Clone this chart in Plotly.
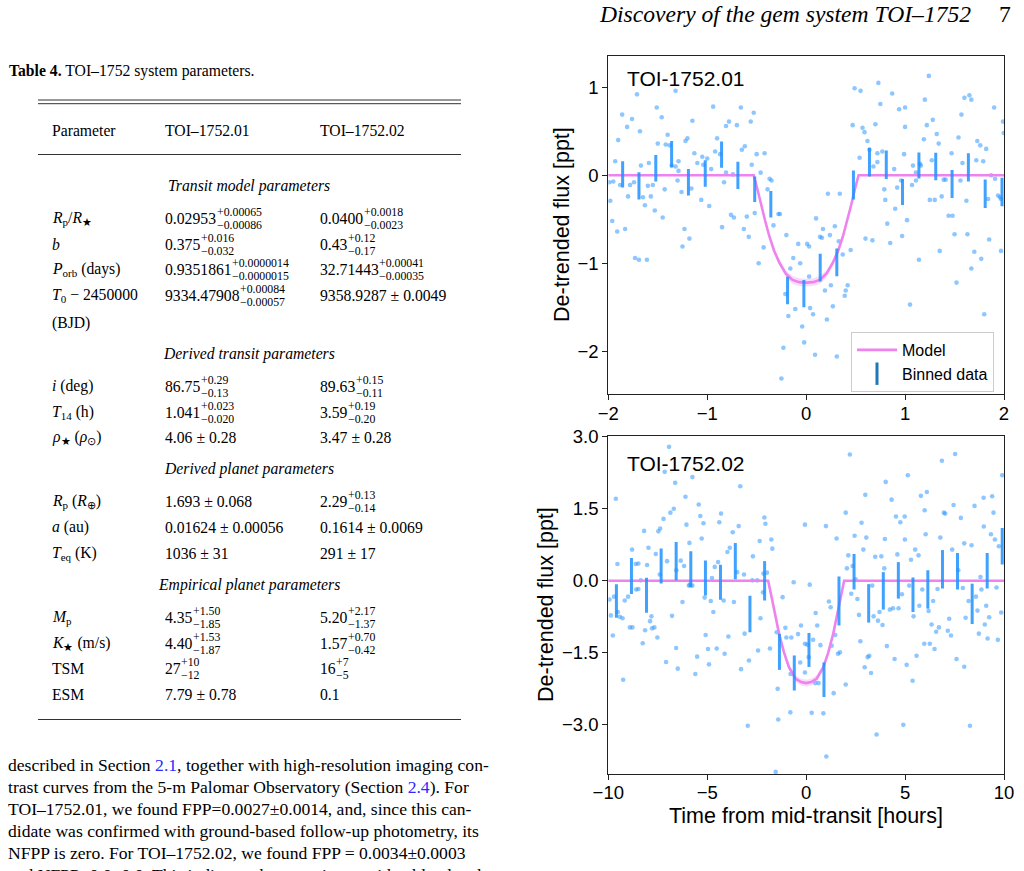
import plotly.graph_objects as go

W, H = 1024, 871
SERIF = "Liberation Serif"
SANS = "Liberation Sans"

# ------------------------------------------------------------------ data
# Panel 1 : TOI-1752.01 (time in hours, flux in ppt)
p1_time = [
    -1.71, -1.32, -1.51, -0.94, -0.66, -1.86, -1.76, -1.46, -1.81, -1.68,
    -1.15, -0.78, -0.70, -0.81, -0.53, -0.56, -1.90, -1.40, -1.20, -1.22,
    -1.50, -1.42, -1.38, -0.90, -0.62, -0.65, -0.92, -0.87, -1.13, -1.05,
    -1.00, -0.50, -0.42, -1.93, -1.59, -1.67, -1.29, -1.36, -1.32, -1.10,
    -1.04, -0.96, -0.55, -0.46, -1.29, -0.81, -0.74, -0.83, -1.99, -1.95,
    -1.88, -1.78, -1.74, -1.60, -1.55, -1.30, -1.43, -1.16, -1.26, -1.98,
    -1.80, -1.65, -1.57, -1.63, -1.53, -1.45, -1.06, -0.98, -0.37, -0.35,
    -0.39, -0.76, -0.73, -0.60, -0.52, -0.33, -0.28, -0.265, -1.96, -1.83,
    -1.91, -1.23, -1.18, -1.25, -0.85, -0.63, -0.58, -0.20, -0.08, -0.43,
    -1.73, -1.69, -1.61, -0.48, -0.13, -0.06, -0.21, -0.18, -0.11, -0.04,
    -0.02, -0.23, -0.25, -0.16,
    1.24, 0.73, 0.49, 0.55, 0.87, 1.60, 1.65, 1.67, 1.20, 0.75,
    1.00, 0.94, 1.90, 1.57, 1.99, 1.28, 0.47, 0.57, 0.70, 1.22,
    1.00, 0.59, 1.32, 1.997, 1.54, 0.62, 1.19, 1.34, 1.73, 1.76,
    1.82, 0.64, 0.77, 0.72, 0.99, 1.47, 0.54, 0.72, 0.68, 0.89,
    1.08, 1.15, 1.16, 1.27, 1.58, 1.72, 1.79, 1.87, 1.11, 1.11,
    1.07, 0.96, 0.92, 0.79, 1.39, 1.41, 1.56, 1.91, 0.80, 1.25,
    1.30, 1.37, 1.62, 1.84, 1.94, 1.96, 1.97, 0.90, 1.02, 0.82,
    1.44, 1.48, 0.97, 0.85, 0.60, 0.67, 1.50, 1.63, 1.85, 1.35,
    1.14, 1.70, 1.77, 1.97, 1.67, 1.52, 1.80, 1.05, 0.22, 0.34,
    0.10, 0.29, 0.17, 0.14, 0.16, 0.24, 0.01, 0.03, 0.33, 0.37,
    0.45, 0.42, 0.40, 0.39, 0.25, 0.19, 0.27, 0.04, 0.07, 0.21,
    0.09, 0.31, 0.03,
]
p1_flux = [
    0.92, 0.96, 0.77, 0.78, 0.77, 0.69, 0.64, 0.66, 0.55, 0.50,
    0.62, 0.61, 0.57, 0.56, 0.71, 0.61, 0.40, 0.46, 0.42, 0.39,
    0.36, 0.35, 0.34, 0.42, 0.33, 0.29, 0.27, 0.24, 0.25, 0.21,
    0.19, 0.24, 0.25, 0.16, 0.14, 0.11, 0.16, 0.11, 0.10, 0.14,
    0.12, 0.07, 0.12, 0.03, 0.05, 0.03, 0.01, -0.08, -0.08, -0.07,
    -0.11, -0.11, -0.08, -0.12, -0.11, -0.06, -0.16, -0.15, -0.19, -0.29,
    -0.24, -0.25, -0.24, -0.34, -0.40, -0.48, -0.28, -0.35, -0.04, -0.06,
    -0.16, -0.45, -0.48, -0.47, -0.43, -0.57, -0.44, -0.44, -0.52, -0.61,
    -0.64, -0.61, -0.72, -0.81, -0.59, -0.61, -0.70, -0.68, -0.78, -0.82,
    -0.94, -0.96, -0.96, -1.00, -0.94, -1.00, -1.35, -1.60, -1.52, -1.72,
    -1.90, -1.96, -2.31, -1.06,
    1.13, 1.05, 0.99, 0.96, 0.93, 0.88, 0.91, 0.86, 0.86, 0.81,
    0.77, 0.75, 0.77, 0.69, 0.61, 0.63, 0.57, 0.54, 0.58, 0.57,
    0.55, 0.49, 0.47, 0.48, 0.43, 0.39, 0.41, 0.36, 0.39, 0.34,
    0.30, 0.29, 0.27, 0.25, 0.24, 0.25, 0.20, 0.15, 0.10, 0.07,
    0.11, 0.13, 0.11, 0.17, 0.14, 0.17, 0.16, 0.00, 0.03, -0.06,
    -0.11, -0.06, -0.14, -0.16, -0.05, -0.05, -0.06, -0.04, -0.28, -0.28,
    -0.28, -0.24, -0.29, -0.27, -0.23, -0.25, -0.27, -0.38, -0.51, -0.55,
    -0.46, -0.46, -0.69, -0.77, -0.72, -0.74, -0.67, -0.67, -0.73, -0.86,
    -0.96, -0.87, -0.95, -0.86, -1.06, -1.22, -1.58, -1.47, -0.21, -0.21,
    -0.49, -0.58, -0.61, -0.70, -0.71, -0.68, -0.78, -0.81, -0.75, -0.90,
    -0.85, -1.25, -1.31, -1.37, -1.25, -1.31, -1.49, -1.51, -1.58, -1.64,
    -2.04, -2.06, -1.15,
]
p1_bin_time = [-1.855, -1.69, -1.52, -1.36, -1.19, -1.02, -0.855, -0.69,
               -0.52, -0.357, -0.188, -0.023, 0.142, 0.31, 0.478, 0.64,
               0.81, 0.974, 1.14, 1.31, 1.475, 1.64, 1.81, 1.98]
p1_bin_flux = [0.01, -0.12, 0.08, 0.24, -0.08, 0.02, 0.235, 0.0,
               -0.16, -0.33, -1.31, -1.345, -1.05, -0.99, -0.11, 0.15,
               0.12, -0.19, 0.11, 0.10, -0.10, 0.09, -0.21, -0.19]
p1_bin_err = [0.15, 0.155, 0.15, 0.15, 0.15, 0.15, 0.15, 0.155,
              0.145, 0.15, 0.155, 0.155, 0.157, 0.157, 0.165, 0.163,
              0.161, 0.148, 0.148, 0.157, 0.159, 0.161, 0.161, 0.163]
p1_model_time = [-2.0, -0.53, -0.49, -0.457, -0.414, -0.373, -0.323, -0.272,
                 -0.205, -0.138, -0.07, 0.0, 0.07, 0.138, 0.205, 0.272,
                 0.323, 0.373, 0.414, 0.457, 0.49, 0.53, 2.0]
p1_model_flux = [0.0, 0.0, -0.17, -0.33, -0.52, -0.69, -0.86, -0.99,
                 -1.12, -1.19, -1.215, -1.22, -1.215, -1.19, -1.12, -0.99,
                 -0.86, -0.69, -0.52, -0.33, -0.17, 0.0, 0.0]
p1_model_unc = [0.0, 0.0, 0.01, 0.015, 0.02, 0.025, 0.03, 0.035,
                0.04, 0.045, 0.045, 0.045, 0.045, 0.045, 0.04, 0.035,
                0.03, 0.025, 0.02, 0.015, 0.01, 0.0, 0.0]

# Panel 2 : TOI-1752.02
p2_time = [
    -6.93, -7.15, -6.62, -5.75, -3.33, -9.62, -6.10, -5.43, -6.69, -6.86,
    -4.30, -5.35, -7.21, -6.05, -5.19, -4.39, -2.11, -2.06, -3.41, -3.71,
    -8.19, -7.47, -7.38, -0.06, -5.28, -2.35, -1.76, -7.97, -8.80, -7.60,
    -7.03, -6.34, -5.90, -3.98, -3.86, -1.71, -2.69, -9.54, -8.61, -8.48,
    -8.04, -6.17, -6.56, -4.45, -4.62, -3.49, -3.14, -4.76, -7.40, -8.36,
    -5.88, -5.93, -5.75, -2.72, -2.47, -2.16, -1.98, -8.59, -8.48, -9.71,
    -9.17, -9.00, -9.94, -5.13, -4.82, -4.17, -6.25, -3.65, -2.18, -1.19,
    -0.63, -9.87, -9.52, -9.42, -9.28, -7.82, -7.89, -6.78, -4.69, -2.31,
    -9.77, -8.91, -8.78, -8.14, -7.67, -7.79, -7.52, -8.26, -5.08, -3.93,
    -3.11, -1.49, -1.05, -1.00, -0.75, -0.41, -0.26, -0.06, -6.57, -4.96,
    -4.52, -4.12, -2.43, -1.83, -5.51, -7.08, -4.91, -6.49, -5.60, -3.29,
    -2.89, -0.06, -9.25, -1.44, -0.80, -1.41, -2.95, -1.54, -0.79, -0.30,
    2.21, 7.53, 6.86, 5.14, 9.91, 4.02, 2.99, 4.32, 5.80, 6.10,
    8.97, 9.40, 7.45, 8.51, 5.99, 6.96, 7.03, 9.47, 2.00, 4.54,
    4.98, 7.82, 4.76, 2.80, 1.00, 8.98, 9.34, 6.04, 2.45, 3.04,
    3.98, 4.99, 6.78, 9.54, 7.99, 8.36, 9.74, 1.54, 2.89, 5.51,
    7.38, 2.13, 3.49, 3.80, 4.61, 5.30, 5.68, 2.06, 3.95, 2.35,
    2.50, 8.81, 7.69, 0.18, 3.34, 5.21, 5.87, 6.64, 7.92, 8.86,
    9.62, 2.28, 2.59, 4.84, 6.42, 5.72, 8.21, 8.58, 9.10, 9.86,
    1.15, 1.24, 2.67, 3.41, 3.63, 3.71, 3.86, 4.23, 4.39, 4.67,
    5.43, 6.19, 6.34, 6.57, 6.71, 7.16, 7.23, 7.32, 8.06, 8.66,
    9.03, 9.25, 9.17, 8.73, 9.69, 0.48, 0.56, 0.35, 0.06, 0.13,
    0.72, 1.29, 1.47, 1.61, 1.71, 2.74, 3.11, 3.19, 2.96, 3.28,
    4.08, 4.47, 5.08, 5.38, 5.58, 5.97, 6.25, 6.49, 7.60, 7.99,
    0.46, 0.63, 1.39, 2.00, 0.28, 0.87, 1.02, 3.56, 4.91, 8.28,
]
p2_flux = [
    2.79, 2.27, 2.04, 2.16, 1.97, 1.71, 1.75, 1.59, 1.50, 1.42,
    1.40, 1.35, 1.29, 1.17, 1.20, 1.22, 1.32, 1.19, 1.14, 1.01,
    1.04, 1.03, 1.09, 1.17, 0.88, 0.83, 0.86, 0.69, 0.65, 0.56,
    0.41, 0.42, 0.79, 0.60, 0.69, 0.67, 0.51, 0.35, 0.35, 0.36,
    0.33, 0.31, 0.22, 0.39, 0.29, 0.18, 0.13, 0.06, 0.13, 0.01,
    -0.08, -0.10, -0.10, 0.01, 0.01, 0.15, 0.17, -0.18, -0.17, -0.33,
    -0.41, -0.33, -0.39, -0.35, -0.42, -0.41, -0.44, -0.44, -0.24, -0.34,
    -0.03, -0.72, -0.65, -0.75, -0.78, -0.74, -0.84, -0.73, -0.65, -0.78,
    -1.14, -0.97, -0.97, -1.03, -0.97, -0.99, -1.18, -1.30, -1.13, -1.16,
    -1.10, -1.07, -0.98, -1.18, -1.18, -1.11, -0.93, -1.31, -1.40, -1.42,
    -1.41, -1.52, -1.45, -1.41, -1.58, -1.69, -1.74, -1.83, -1.94, -1.84,
    -1.66, -1.91, -2.06, -2.25, -2.74, -2.89, -3.02, -3.98, -1.94, -1.70,
    2.63, 2.64, 2.50, 2.20, 2.20, 2.06, 1.79, 1.69, 1.77, 1.85,
    1.73, 1.76, 1.58, 1.56, 1.47, 1.42, 1.40, 1.42, 1.42, 1.34,
    1.34, 1.31, 1.22, 1.21, 1.14, 1.13, 0.97, 0.97, 0.94, 0.90,
    0.87, 0.86, 0.90, 0.86, 0.78, 0.74, 0.72, 0.88, 0.65, 0.65,
    0.65, 0.53, 0.50, 0.51, 0.55, 0.44, 0.53, 0.26, 0.26, 0.31,
    0.03, 0.08, 0.22, -0.08, -0.10, -0.10, -0.18, -0.17, -0.15, -0.18,
    -0.14, -0.27, -0.38, -0.28, -0.42, -0.52, -0.42, -0.33, -0.52, -0.66,
    -0.43, -0.55, -0.71, -0.74, -0.83, -0.65, -0.92, -0.60, -0.57, -0.57,
    -0.74, -0.63, -0.91, -1.06, -0.97, -1.04, -0.79, -1.14, -0.77, -0.62,
    -0.91, -0.76, -1.20, -1.10, -1.23, -0.67, -0.93, -1.23, -1.33, -1.59,
    -1.34, -1.35, -1.13, -1.52, -1.49, -1.26, -1.59, -1.56, -1.80, -1.92,
    -1.36, -1.63, -1.75, -2.08, -1.56, -1.31, -1.31, -1.42, -1.63, -1.79,
    -2.13, -2.13, -2.34, -2.16, -2.75, -2.76, -3.66, -3.20, -3.00, -3.02,
]
p2_bin_time = [-9.59, -8.83, -8.07, -7.33, -6.57, -5.83, -5.09, -4.33, -3.58,
               -2.84, -2.10, -1.35, -0.60, 0.143, 0.90, 1.66, 2.42, 3.16,
               3.90, 4.66, 5.40, 6.15, 6.89, 7.65, 8.39, 9.15, 9.91]
p2_bin_flux = [-0.42, 0.10, -0.30, 0.31, 0.41, 0.24, 0.06, -0.03, 0.41,
               -0.69, 0.0, -1.48, -1.92, -1.44, -2.06, -0.42, 0.19, -0.47,
               -0.21, 0.01, -0.29, -0.18, 0.24, 0.20, -0.48, 0.21, 0.72]
p2_bin_err = [0.35, 0.375, 0.365, 0.365, 0.40, 0.375, 0.365, 0.365, 0.38,
              0.38, 0.41, 0.375, 0.365, 0.354, 0.36, 0.51, 0.37, 0.40,
              0.39, 0.38, 0.36, 0.40, 0.40, 0.38, 0.42, 0.37, 0.38]
p2_model_time = [-10.0, -1.92, -1.71, -1.54, -1.37, -1.12, -0.87, -0.53, -0.25,
                 0.0, 0.25, 0.53, 0.87, 1.12, 1.37, 1.54, 1.71, 1.92, 10.0]
p2_model_flux = [0.0, 0.0, -0.41, -0.76, -1.10, -1.49, -1.80, -2.04, -2.11,
                 -2.13, -2.11, -2.04, -1.80, -1.49, -1.10, -0.76, -0.41, 0.0, 0.0]
p2_model_unc = [0.0, 0.0, 0.02, 0.03, 0.04, 0.05, 0.06, 0.07, 0.07,
                0.07, 0.07, 0.07, 0.06, 0.05, 0.04, 0.03, 0.02, 0.0, 0.0]

assert len(p1_time) == len(p1_flux)
assert len(p2_time) == len(p2_flux)

p1_xticks = [-2, -1, 0, 1, 2]
p1_yticks = [-2, -1, 0, 1]
p2_xticks = [-10, -5, 0, 5, 10]
p2_yticks = [-3.0, -1.5, 0.0, 1.5, 3.0]

# Table 4 content
table_params = ["<i>R</i><sub>p</sub>/<i>R</i><sub>★</sub>", "<i>b</i>",
                "<i>P</i><sub>orb</sub> (days)", "<i>T</i><sub>0</sub> − 2450000", "(BJD)",
                "<i>i</i> (deg)", "<i>T</i><sub>14</sub> (h)",
                "<i>ρ</i><sub>★</sub> (<i>ρ</i><sub>⊙</sub>)",
                "<i>R</i><sub>p</sub> (<i>R</i><sub>⊕</sub>)", "<i>a</i> (au)",
                "<i>T</i><sub>eq</sub> (K)",
                "<i>M</i><sub>p</sub>", "<i>K</i><sub>★</sub> (m/s)", "TSM", "ESM"]
toi01_val = ["0.02953", "0.375", "0.9351861", "9334.47908", "", "86.75", "1.041",
             "4.06 ± 0.28", "1.693 ± 0.068", "0.01624 ± 0.00056", "1036 ± 31",
             "4.35", "4.40", "27", "7.79 ± 0.78"]
toi01_up = ["+0.00065", "+0.016", "+0.0000014", "+0.00084", "", "+0.29", "+0.023",
            "", "", "", "", "+1.50", "+1.53", "+10", ""]
toi01_lo = ["−0.00086", "−0.032", "−0.0000015", "−0.00057", "", "−0.13", "−0.020",
            "", "", "", "", "−1.85", "−1.87", "−12", ""]
toi02_val = ["0.0400", "0.43", "32.71443", "9358.9287 ± 0.0049", "", "89.63", "3.59",
             "3.47 ± 0.28", "2.29", "0.1614 ± 0.0069", "291 ± 17",
             "5.20", "1.57", "16", "0.1"]
toi02_up = ["+0.0018", "+0.12", "+0.00041", "", "", "+0.15", "+0.19",
            "", "+0.13", "", "", "+2.17", "+0.70", "+7", ""]
toi02_lo = ["−0.0023", "−0.17", "−0.00035", "", "", "−0.11", "−0.20",
            "", "−0.14", "", "", "−1.37", "−0.42", "−5", ""]
table_sections = ["Transit model parameters", "Derived transit parameters",
                  "Derived planet parameters", "Empirical planet parameters"]
table_header = ["Parameter", "TOI–1752.01", "TOI–1752.02"]

paragraph = [
    "described in Section <span style='color:#2a2aff'>2.1</span>, together with high-resolution imaging con-",
    "trast curves from the 5-m Palomar Observatory (Section <span style='color:#2a2aff'>2.4</span>). For",
    "TOI–1752.01, we found FPP=0.0027±0.0014, and, since this can-",
    "didate was confirmed with ground-based follow-up photometry, its",
    "NFPP is zero. For TOI–1752.02, we found FPP = 0.0034±0.0003",
    "and NFPP=0.0±0.0. This indicates that, consistent with a blend and",
]

# ------------------------------------------------------------------ layout helpers
def px(x):
    return x / W


def py(y):
    return 1 - y / H


annotations = []
shapes = []


def ann(x, y, text, size, family=SERIF, anchor="left", color="black", angle=0):
    annotations.append(dict(
        x=px(x), y=py(y), xref="paper", yref="paper", text=text, showarrow=False,
        xanchor=anchor, yanchor="middle", textangle=angle,
        font=dict(family=family, size=size, color=color)))


def hline(y, x0, x1, width=1.0, color="#333333"):
    shapes.append(dict(type="line", xref="paper", yref="paper",
                       x0=px(x0), x1=px(x1), y0=py(y), y1=py(y),
                       line=dict(color=color, width=width)))


TIMES_W = {".": 0.25, " ": 0.25, "±": 0.564}


def times_width(s, size):
    return sum(TIMES_W.get(c, 0.5) for c in s) * size


# ------------------------------------------------------------------ figure
fig = go.Figure()

BLUE_PT = "rgba(30,144,255,0.5)"
BLUE_BAR = "rgba(30,144,255,0.85)"
VIOLET = "#ee82ee"
BAND = "rgba(238,130,238,0.28)"


def add_panel(t, f, bt, bf, be, mt, mf, mu, xa, ya, show_legend):
    fig.add_trace(go.Scatter(x=t, y=f, mode="markers", xaxis=xa, yaxis=ya,
                             marker=dict(size=4.6, color=BLUE_PT, line=dict(width=0)),
                             showlegend=False, hoverinfo="skip"))
    upper = [m + u for m, u in zip(mf, mu)]
    lower = [m - u for m, u in zip(mf, mu)]
    fig.add_trace(go.Scatter(x=mt, y=upper, mode="lines", xaxis=xa, yaxis=ya,
                             line=dict(width=0, color=BAND), showlegend=False,
                             hoverinfo="skip"))
    fig.add_trace(go.Scatter(x=mt, y=lower, mode="lines", xaxis=xa, yaxis=ya,
                             line=dict(width=0, color=BAND), fill="tonexty",
                             fillcolor=BAND, showlegend=False, hoverinfo="skip"))
    fig.add_trace(go.Scatter(x=mt, y=mf, mode="lines", xaxis=xa, yaxis=ya,
                             line=dict(color=VIOLET, width=2.6), name="Model",
                             showlegend=show_legend))
    fig.add_trace(go.Scatter(x=bt, y=bf, mode="markers", xaxis=xa, yaxis=ya,
                             marker=dict(size=1, color="rgba(0,0,0,0)"),
                             error_y=dict(type="data", array=be, visible=True,
                                          thickness=3, width=0, color=BLUE_BAR),
                             showlegend=False, hoverinfo="skip"))


add_panel(p1_time, p1_flux, p1_bin_time, p1_bin_flux, p1_bin_err,
          p1_model_time, p1_model_flux, p1_model_unc, "x", "y", True)
add_panel(p2_time, p2_flux, p2_bin_time, p2_bin_flux, p2_bin_err,
          p2_model_time, p2_model_flux, p2_model_unc, "x2", "y2", False)

# legend proxy for binned data
fig.add_trace(go.Scatter(x=[None], y=[None], mode="markers", xaxis="x", yaxis="y",
                         name="Binned data",
                         marker=dict(symbol="line-ns-open", size=17,
                                     line=dict(width=3, color=BLUE_BAR))))


def fmt_tick(v, dec):
    s = f"{abs(v):.{dec}f}"
    return ("−" + s) if v < 0 else s


axis_common = dict(showgrid=False, zeroline=False, showline=True, mirror=True,
                   automargin=False,
                   linecolor="#222222", linewidth=1.1, ticks="outside", ticklen=5,
                   tickwidth=1.1, tickcolor="#222222",
                   tickfont=dict(family=SANS, size=18.5, color="black"))

X0, X1 = 608.3, 1004.0
fig.update_layout(
    template="none",
    width=W, height=H, margin=dict(l=0, r=0, t=0, b=0, pad=0, autoexpand=False),
    paper_bgcolor="white", plot_bgcolor="white",
    xaxis=dict(domain=[px(X0), px(X1)], anchor="y", range=[-2, 2],
               tickvals=p1_xticks, ticktext=[fmt_tick(v, 0) for v in p1_xticks],
               ticklabelstandoff=-3, **axis_common),
    yaxis=dict(domain=[py(394.3), py(56)], anchor="x", range=[-2.49, 1.356],
               tickvals=p1_yticks, ticktext=[fmt_tick(v, 0) for v in p1_yticks],
               **axis_common),
    xaxis2=dict(domain=[px(X0), px(X1)], anchor="y2", range=[-10, 10],
                tickvals=p2_xticks, ticktext=[fmt_tick(v, 0) for v in p2_xticks],
                ticklabelstandoff=-4, **axis_common),
    yaxis2=dict(domain=[py(774.3), py(436.3)], anchor="x2", range=[-4.03, 3.01],
                tickvals=p2_yticks, ticktext=[fmt_tick(v, 1) for v in p2_yticks],
                **axis_common),
    legend=dict(x=px(851), y=py(332), xanchor="left", yanchor="top",
                traceorder="normal",
                bgcolor="rgba(255,255,255,0.85)", bordercolor="#cccccc", borderwidth=1,
                font=dict(family=SANS, size=16, color="black"),
                itemwidth=40, tracegroupgap=0),
    showlegend=True,
)

# plot texts
ann(625, 78, "TOI-1752.01", 21, family=SANS)
ann(625, 463, "TOI-1752.02", 21, family=SANS)
ann(562, 225, "De-trended flux [ppt]", 21.5, family=SANS, anchor="center", angle=-90)
ann(546, 605, "De-trended flux [ppt]", 21.5, family=SANS, anchor="center", angle=-90)
ann(806, 816, "Time from mid-transit [hours]", 21.5, family=SANS, anchor="center")

# running head
ann(597, 14, "<i>Discovery of the gem system TOI–1752</i>", 23.6, anchor="left")
ann(1013, 14, "7", 23.6, anchor="right")

# table caption
TS = 15.7
ann(7, 71, "<b>Table 4.</b> TOI–1752 system parameters.", TS)
hline(100, 38, 461)
hline(103.7, 38, 461)
col_x = [50, 163, 318]
for cx, txt in zip(col_x, table_header):
    ann(cx, 130, txt, TS)
hline(154.5, 38, 461)

section_y = [186, 354, 469, 585]
for sy, txt in zip(section_y, table_sections):
    ann(249, sy, f"<i>{txt}</i>", TS, anchor="center")

row_y = [218, 244, 269, 295, 323, 386, 412, 437, 501, 527, 553, 617, 643, 668, 694]
SUP = 11.8
for i, ry in enumerate(row_y):
    ann(col_x[0], ry, table_params[i], TS)
    for cx, vals, ups, los in ((col_x[1], toi01_val, toi01_up, toi01_lo),
                               (col_x[2], toi02_val, toi02_up, toi02_lo)):
        if vals[i]:
            ann(cx, ry, vals[i], TS)
        if ups[i]:
            sx = cx + times_width(vals[i], TS) + 0.5
            ann(sx, ry - 5.6, ups[i], SUP)
            ann(sx, ry + 6.8, los[i], SUP)
hline(719.5, 38, 461)

# body paragraph
para_y = [765, 787, 809, 831, 853, 875]
for yy, line in zip(para_y, paragraph):
    ann(6, yy, line, 17.6)

fig.update_layout(annotations=annotations, shapes=shapes)
fig.write_html("out.html")
